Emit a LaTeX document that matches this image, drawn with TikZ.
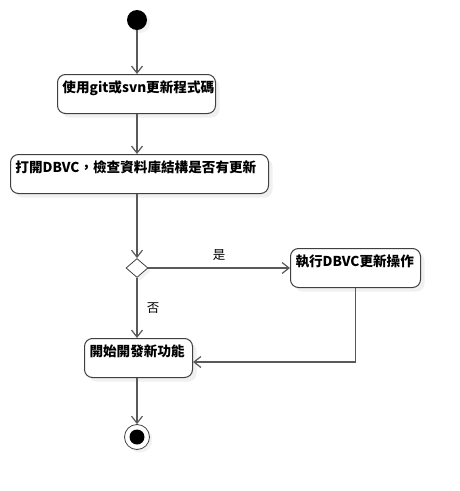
\documentclass[tikz,border=0pt]{standalone}
\usepackage{fontspec}
\setmainfont{Noto Sans CJK TC}
\usetikzlibrary{arrows.meta,shadows,shapes.geometric,calc}

\tikzset{
	act/.style={draw=black!75, fill=white, line width=1pt, rounded corners=8pt,
		anchor=north west, align=left, font=\bfseries\fontsize{13.6}{15}\selectfont,
		inner xsep=5pt, inner ysep=5pt, text height=13pt, text depth=16pt,
		drop shadow={opacity=0.12, shadow xshift=4pt, shadow yshift=-4pt}},
	flow/.style={draw=black!65, line width=1.2pt, -{Straight Barb[length=7pt,width=11pt]}},
	lbl/.style={font=\fontsize{12.5}{14}\selectfont}
}

\begin{document}
\begin{tikzpicture}[x=1pt,y=-1pt]
	\useasboundingbox (0,0) rectangle (459,491);

	\node [circle, fill=black, minimum size=20pt, inner sep=0pt,
		drop shadow={opacity=0.1, shadow xshift=3pt, shadow yshift=-3pt}] (start) at (137, 20) {};

	\node [act, text width=148pt] (update) at (57, 74) {使用git或svn更新程式碼};
	\node [act, text width=248pt] (check) at (10, 154) {打開DBVC，檢查資料庫結構是否有更新};

	\node [diamond, draw=black!75, line width=0.8pt, fill=white, minimum width=22pt,
		minimum height=19pt, inner sep=0pt,
		drop shadow={opacity=0.1, shadow xshift=3pt, shadow yshift=-3pt}] (choice) at (137, 268) {};

	\node [act, text width=120pt] (dbvc) at (290, 248) {執行DBVC更新操作};
	\node [act, text width=98pt] (dev) at (84, 338) {開始開發新功能};

	\node [circle, draw=black!75, line width=0.8pt, fill=white, minimum size=25pt, inner sep=0pt,
		drop shadow={opacity=0.1, shadow xshift=3pt, shadow yshift=-3pt}] (stop) at (137, 437) {};
	\fill (stop) circle (7.5pt);

	\draw [flow] (start.south) -- (start.south |- update.north);
	\draw [flow] (update.south -| start) -- (check.north -| start);
	\draw [flow] (check.south -| start) -- (choice.north);
	\draw [flow] (choice.east) -- (choice.east -| dbvc.west) node [lbl, midway, above=4pt] {是};
	\draw [flow] (choice.south) -- (choice.south |- dev.north) node [lbl, pos=0.5, right=6pt] {否};
	\draw [flow] (dbvc.south) |- ($(dev.east)+(0,4)$);
	\draw [flow] (dev.south -| start) -- (stop.north);

\end{tikzpicture}
\end{document}
